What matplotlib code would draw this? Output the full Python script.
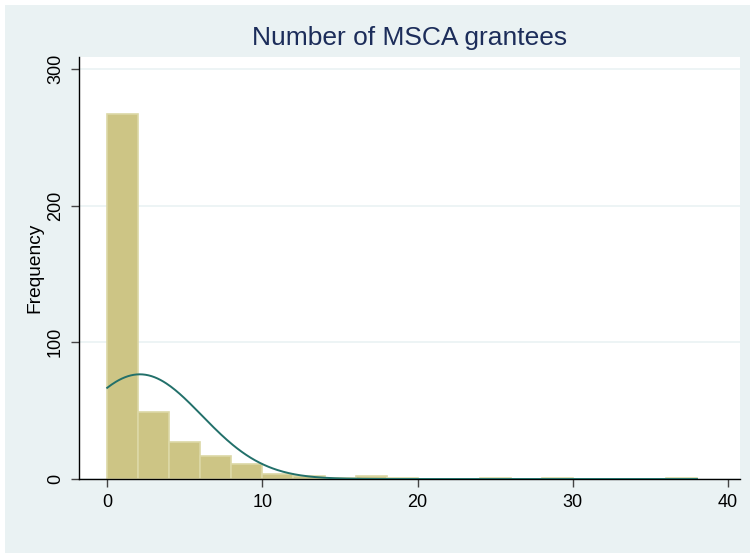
import numpy as np
import matplotlib.pyplot as plt
from matplotlib.patches import Rectangle

# histogram of number of MSCA grantees, bin width 2 (left edges of bins)
bin_starts = list(range(0, 38, 2))
counts = [267, 49, 27, 17, 11, 4, 2, 1, 2, 1, 0, 0, 1, 0, 1, 0, 0, 0, 1]
# normal density overlay (mean / sd)
mean_val = 2.1
sd_val = 4.0
data_min, data_max = 0, 38
bin_width = 2

bg = "#EAF2F3"
bar_fill = "#CDC585"
bar_edge = "#DCD8A6"
line_col = "#22706A"
title_col = "#1C2D5A"

plt.rcParams['font.family'] = ['Liberation Sans', 'DejaVu Sans']

fig = plt.figure(figsize=(7.5, 5.53), dpi=100, facecolor="white")
fig.patches.append(Rectangle((5 / 750, 0), 1, 1 - 5 / 553, transform=fig.transFigure,
                             facecolor=bg, edgecolor="none", zorder=-10))
ax = fig.add_axes([78.5 / 750, 1 - 479 / 553, (740 - 78.5) / 750, (479 - 56.7) / 553])
ax.set_facecolor("white")

ax.bar(bin_starts, counts, width=bin_width, align="edge",
       color=bar_fill, edgecolor=bar_edge, linewidth=1.2, zorder=2)

n_total = sum(counts)
xs = np.linspace(data_min, data_max, 400)
dens = np.exp(-(xs - mean_val) ** 2 / (2 * sd_val ** 2)) / (sd_val * np.sqrt(2 * np.pi))
ax.plot(xs, dens * n_total * bin_width, color=line_col, linewidth=1.4, zorder=3)

ax.set_xlim(-1.85, 40.77)
ax.set_ylim(0, 309)
ax.set_xticks([0, 10, 20, 30, 40])
ax.set_yticks([0, 100, 200, 300])
ax.set_yticklabels(["0", "100", "200", "300"], rotation=90, va="center")
ax.yaxis.grid(True, color=bg, linewidth=1.2, zorder=0)
ax.set_axisbelow(True)

for s in ["top", "right"]:
    ax.spines[s].set_visible(False)
for s in ["left", "bottom"]:
    ax.spines[s].set_color("black")
    ax.spines[s].set_linewidth(1.0)
ax.tick_params(axis="both", length=5.5, width=1.0, color="#444444", labelsize=13, pad=5)

# y axis title placed where Stata puts it
fig.text(35 / 750, 1 - 268 / 553, "Frequency", rotation=90, ha="center", va="center",
         fontsize=13.8)
fig.text(410 / 750, 1 - 38 / 553, "Number of MSCA grantees", ha="center", va="center",
         fontsize=19, color=title_col)

fig.savefig("out.png", dpi=100, facecolor=fig.get_facecolor())
